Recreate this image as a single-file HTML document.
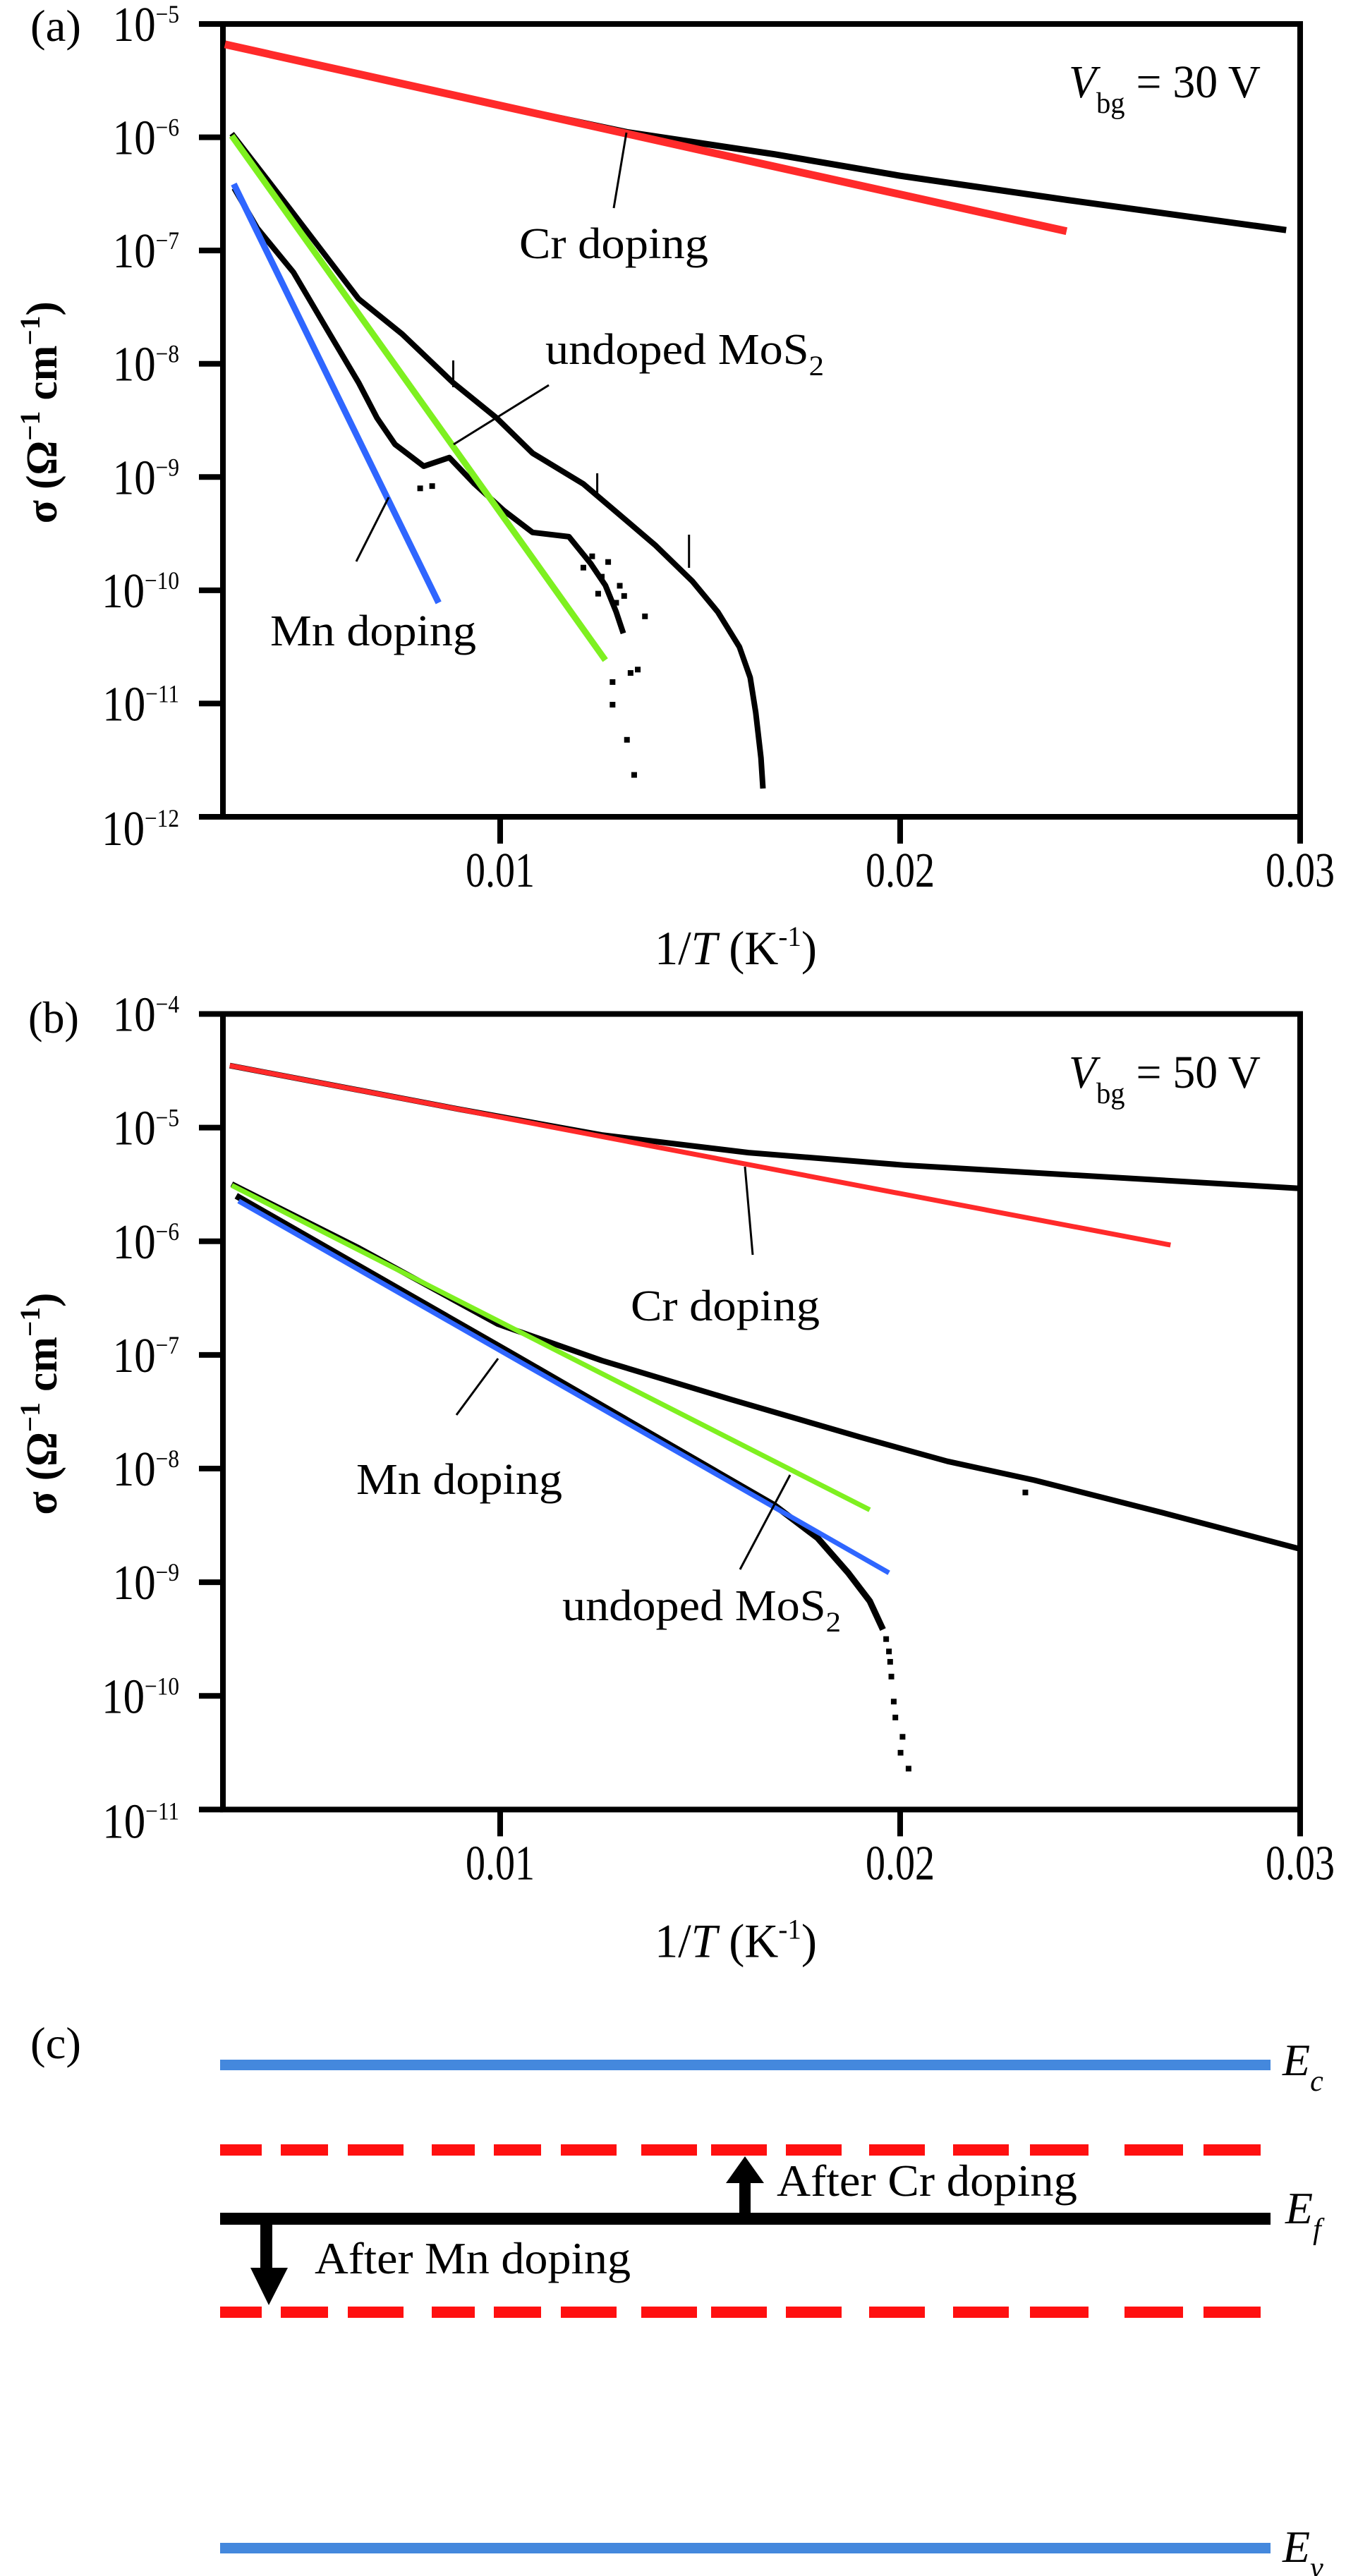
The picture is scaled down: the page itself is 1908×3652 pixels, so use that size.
<!DOCTYPE html>
<html><head><meta charset="utf-8"><style>
html,body{margin:0;padding:0;background:#fff;}
svg{display:block;font-family:"Liberation Serif",serif;}
</style></head><body>
<svg id="fig" width="1908" height="3652" viewBox="0 0 1908 3652" xmlns="http://www.w3.org/2000/svg"></svg>
<script>
// ---------- Panel (a) data: x = 1/T (K^-1), y = log10(sigma) ----------
const aCrFitX = [0.00312, 0.0100, 0.0170, 0.02416];
const aCrFitY = [-5.18, -5.72, -6.27, -6.83];
const aCrDataX = [0.00312, 0.0080, 0.0100, 0.01318, 0.01686, 0.0200, 0.02422, 0.02965];
const aCrDataY = [-5.18, -5.56, -5.72, -5.956, -6.15, -6.34, -6.556, -6.82];
const aGreenX = [0.00329, 0.01263];
const aGreenY = [-5.987, -10.617];
const aBlueX = [0.00334, 0.00846];
const aBlueY = [-6.413, -10.11];
const aUndopedUpperX = [0.00329,0.00465,0.00646,0.00755,0.00882,0.00991,0.01081,0.01208,0.01299,0.01389,0.01480,0.01544,0.01598,0.01625,0.01639,0.01652,0.01657];
const aUndopedUpperY = [-5.968,-6.590,-7.427,-7.738,-8.166,-8.478,-8.789,-9.061,-9.334,-9.606,-9.918,-10.19,-10.50,-10.77,-11.08,-11.48,-11.75];
const aUndopedLowerX = [0.00335,0.00393,0.00483,0.00574,0.00646,0.00692,0.00737,0.00809,0.00873,0.00936,0.01009,0.01081,0.01172,0.01226,0.01263,0.01290,0.01308];
const aUndopedLowerY = [-6.45,-6.804,-7.192,-7.738,-8.166,-8.478,-8.711,-8.904,-8.828,-9.061,-9.295,-9.489,-9.527,-9.762,-9.956,-10.19,-10.38];
const aScatterX = [0.01208,0.01254,0.01299,0.01245,0.01290,0.01281,0.01326,0.01362,0.01281,0.01317,0.01335,0.01344,0.01230,0.01270,0.01310,0.00800,0.00830];
const aScatterY = [-9.80,-9.88,-9.96,-10.03,-10.11,-10.81,-10.73,-10.23,-11.01,-11.32,-11.63,-10.70,-9.70,-9.75,-10.05,-9.10,-9.08];
// ---------- Panel (b) data ----------
const bCrFitX = [0.00324, 0.0120, 0.0200, 0.02676];
const bCrFitY = [-4.454, -5.042, -5.58, -6.033];
const bCrDataX = [0.00324, 0.0090, 0.01254, 0.01621, 0.02010, 0.02335, 0.02659, 0.03005];
const bCrDataY = [-4.454, -4.84, -5.065, -5.220, -5.330, -5.397, -5.464, -5.536];
const bGreenX = [0.00329, 0.01924];
const bGreenY = [-5.508, -8.363];
const bBlueX = [0.00346, 0.01972];
const bBlueY = [-5.646, -8.917];
const bUndopedUpperX = [0.00329,0.00648,0.00994,0.01254,0.01578,0.01902,0.02118,0.02335,0.02659,0.03005];
const bUndopedUpperY = [-5.497,-6.062,-6.728,-7.049,-7.393,-7.725,-7.936,-8.102,-8.391,-8.712];
const bUndopedLowerX = [0.00340,0.01037,0.01686,0.01794,0.01870,0.01924,0.01957];
const bUndopedLowerY = [-5.60,-7.004,-8.324,-8.612,-8.917,-9.166,-9.416];
const bScatterX = [0.01972,0.01978,0.01984,0.01988,0.02006,0.02001,0.02021,0.0134,0.02313,0.01965,0.01975];
const bScatterY = [-9.609,-9.83,-10.05,-10.19,-10.36,-10.50,-10.64,-7.63,-8.21,-9.50,-9.70];
// ---------- Tick labels ----------
const xTicks = [0.01, 0.02, 0.03];
const xTickLabels = ["0.01", "0.02", "0.03"];
const aYTicks = [-5,-6,-7,-8,-9,-10,-11,-12];
const bYTicks = [-4,-5,-6,-7,-8,-9,-10,-11];

const NS = "http://www.w3.org/2000/svg";
const svg = document.getElementById("fig");
function mk(tag, attrs, parent) {
  const e = document.createElementNS(NS, tag);
  for (const k in attrs) e.setAttribute(k, attrs[k]);
  (parent || svg).appendChild(e);
  return e;
}
const L = 316, R = 1843;
function xs(v) { return 709 + (v - 0.01) * 56700; }

function panel(g, top, bottom, yMax, yMin, yTicks) {
  const dec = (bottom - top) / (yMax - yMin);
  const ys = l => top + (yMax - l) * dec;
  const box = mk("rect", {x: L, y: top, width: R - L, height: bottom - top, fill: "none", stroke: "#000", "stroke-width": 8}, g);
  
  
  yTicks.forEach(t => {
    const y = ys(t);
    const tk = mk("line", {x1: L - 34, x2: L, y1: y, y2: y, stroke: "#000", "stroke-width": 8}, g);
    
    
    const off = (t === yMin) ? 40 : 24;
    const tx = mk("text", {transform: `translate(254,${y + off}) scale(0.87,1)`, "text-anchor": "end", "font-size": 70}, g);
    
    
    tx.innerHTML = `10<tspan font-size="36" dy="-26">\u2212${-t}</tspan>`;
  });
  xTicks.forEach((t, i) => {
    const x = xs(t);
    const tk = mk("line", {x1: x, x2: x, y1: bottom, y2: bottom + 38, stroke: "#000", "stroke-width": 8}, g);
    
    
    const tx = mk("text", {transform: `translate(${x},${bottom + 99}) scale(0.8,1)`, "text-anchor": "middle", "font-size": 70}, g);
    
    
    tx.textContent = xTickLabels[i];
  });
  const xl = mk("text", {x: 928, y: bottom + 209, "font-size": 68, textLength: 230, lengthAdjust: "spacingAndGlyphs"}, g);
  
  
  xl.innerHTML = `1/<tspan font-style="italic">T</tspan> (K<tspan font-size="40" dy="-26">-1</tspan><tspan dy="26">)</tspan>`;
  const cy = top + (bottom - top) * 0.49;
  const yl = mk("text", {transform: `translate(80,${cy}) rotate(-90)`, "text-anchor": "middle", "font-size": 62, "font-weight": "bold", textLength: 315, lengthAdjust: "spacingAndGlyphs"}, g);
  
  
  yl.innerHTML = `σ (Ω<tspan font-size="40" dy="-24">−1</tspan><tspan dy="24"> cm</tspan><tspan font-size="40" dy="-24">−1</tspan><tspan dy="24">)</tspan>`;
  return ys;
}
function series(g, X, Y, ys, color, w, name) {
  const pts = X.map((v, i) => xs(v).toFixed(1) + "," + ys(Y[i]).toFixed(1)).join(" ");
  const p = mk("polyline", {points: pts, fill: "none", stroke: color, "stroke-width": w, "stroke-linejoin": "round"}, g);
  
  
}
function scatter(g, X, Y, ys, name) {
  X.forEach((v, i) => {
    const r = mk("rect", {x: xs(v) - 4, y: ys(Y[i]) - 4, width: 8, height: 8, fill: "#000"}, g);
    
    
  });
}
function txt(g, x, y, size, html, name, len) {
  const a = {x: x, y: y, "font-size": size};
  if (len) { a.textLength = len; a.lengthAdjust = "spacingAndGlyphs"; }
  const t = mk("text", a, g);
  
  
  t.innerHTML = html;
  return t;
}
function ln(g, x1, y1, x2, y2, w, name, color) {
  const l = mk("line", {x1, y1, x2, y2, stroke: color || "#000", "stroke-width": w}, g);
  
  
}

// ---------- Panel (a) ----------
const ga = mk("g", {});


const ysa = panel(ga, 34, 1158, -5, -12, aYTicks);
txt(ga, 43, 58, 64, "(a)", "panel-a-label", 72);
series(ga, aCrDataX, aCrDataY, ysa, "#000", 9, "cr-doped-data");
series(ga, aCrFitX, aCrFitY, ysa, "#ff2a2a", 11, "cr-doped-fit");
series(ga, aUndopedUpperX, aUndopedUpperY, ysa, "#000", 8, "undoped-data-upper");
series(ga, aUndopedLowerX, aUndopedLowerY, ysa, "#000", 8, "undoped-data-lower");
scatter(ga, aScatterX, aScatterY, ysa, "undoped-scatter-point");
series(ga, aGreenX, aGreenY, ysa, "#7ef020", 9, "undoped-fit");
series(ga, aBlueX, aBlueY, ysa, "#2f66ff", 9, "mn-doped-fit");
ln(ga, 642.5, 511, 642.5, 549, 3, "data-spike");
ln(ga, 846.6, 671, 846.6, 699, 3, "data-spike");
ln(ga, 976.7, 758, 976.7, 805, 3, "data-spike");
ln(ga, 888, 188, 870, 295, 3, "cr-pointer");
ln(ga, 778, 546, 643, 630, 3, "undoped-pointer");
ln(ga, 551, 705, 505, 796, 3, "mn-pointer");
txt(ga, 736, 366, 62, "Cr doping", "cr-doping-label", 268);
txt(ga, 773, 516, 62, 'undoped MoS<tspan font-size="40" dy="16">2</tspan>', "undoped-label", 395);
txt(ga, 383, 915, 62, "Mn doping", "mn-doping-label", 292);
txt(ga, 1515, 138, 66, '<tspan font-style="italic">V</tspan><tspan font-size="42" dy="22">bg</tspan><tspan dy="-22"> = 30 V</tspan>', "vbg-label", 272);

// ---------- Panel (b) ----------
const gb = mk("g", {});


const ysb = panel(gb, 1437.5, 2565.4, -4, -11, bYTicks);
txt(gb, 40, 1464, 64, "(b)", "panel-b-label", 72);
series(gb, bCrDataX, bCrDataY, ysb, "#000", 8, "cr-doped-data");
series(gb, bCrFitX, bCrFitY, ysb, "#ff2a2a", 7, "cr-doped-fit");
series(gb, bUndopedUpperX, bUndopedUpperY, ysb, "#000", 8, "undoped-data-upper");
series(gb, bUndopedLowerX, bUndopedLowerY, ysb, "#000", 9, "undoped-data-lower");
scatter(gb, bScatterX, bScatterY, ysb, "undoped-scatter-point");
series(gb, bGreenX, bGreenY, ysb, "#7ef020", 7, "undoped-fit");
series(gb, bBlueX, bBlueY, ysb, "#2f66ff", 7, "mn-doped-fit");
ln(gb, 1056, 1654, 1067, 1779, 3, "cr-pointer");
ln(gb, 706, 1926, 647, 2006, 3, "mn-pointer");
ln(gb, 1120, 2091, 1049, 2225, 3, "undoped-pointer");
txt(gb, 894, 1872, 62, "Cr doping", "cr-doping-label", 268);
txt(gb, 505, 2118, 62, "Mn doping", "mn-doping-label", 292);
txt(gb, 797, 2297, 62, 'undoped MoS<tspan font-size="40" dy="16">2</tspan>', "undoped-label", 395);
txt(gb, 1515, 1542, 66, '<tspan font-style="italic">V</tspan><tspan font-size="42" dy="22">bg</tspan><tspan dy="-22"> = 50 V</tspan>', "vbg-label", 272);

// ---------- Panel (c) band diagram ----------
const gc = mk("g", {});


txt(gc, 43, 2918, 64, "(c)", "panel-c-label", 72);
const ec = mk("rect", {x: 312, y: 2920, width: 1489, height: 15, fill: "#4488dd"}, gc);


const ev = mk("rect", {x: 312, y: 3605, width: 1489, height: 15, fill: "#4488dd"}, gc);


const ef = mk("rect", {x: 312, y: 3137, width: 1489, height: 17, fill: "#000"}, gc);


const dashes = [[312,371],[398,465],[493,572],[612,673],[700,767],[795,874],[909,988],[1008,1087],[1114,1193],[1232,1311],[1351,1430],[1460,1543],[1594,1677],[1706,1787]];
[3040, 3270].forEach((yy, k) => {
  dashes.forEach(d => {
    const r = mk("rect", {x: d[0], y: yy, width: d[1] - d[0], height: 16, fill: "#ff1010"}, gc);
    
    
  });
});
const up = mk("path", {d: "M1048,3137 L1048,3095 L1029,3095 L1056,3057 L1083,3095 L1064,3095 L1064,3137 Z", fill: "#000"}, gc);


const dn = mk("path", {d: "M369,3154 L369,3215 L355,3215 L381,3268 L408,3215 L386,3215 L386,3154 Z", fill: "#000"}, gc);


txt(gc, 1101, 3113, 64, "After Cr doping", "after-cr-label", 426);
txt(gc, 446, 3223, 64, "After Mn doping", "after-mn-label", 448);
txt(gc, 1818, 2942, 64, '<tspan font-style="italic">E</tspan><tspan font-style="italic" font-size="42" dy="22">c</tspan>', "ec-label");
txt(gc, 1822, 3152, 64, '<tspan font-style="italic">E</tspan><tspan font-style="italic" font-size="42" dy="22">f</tspan>', "ef-label");
txt(gc, 1818, 3632, 64, '<tspan font-style="italic">E</tspan><tspan font-style="italic" font-size="42" dy="22">v</tspan>', "ev-label");
</script>
</body></html>
